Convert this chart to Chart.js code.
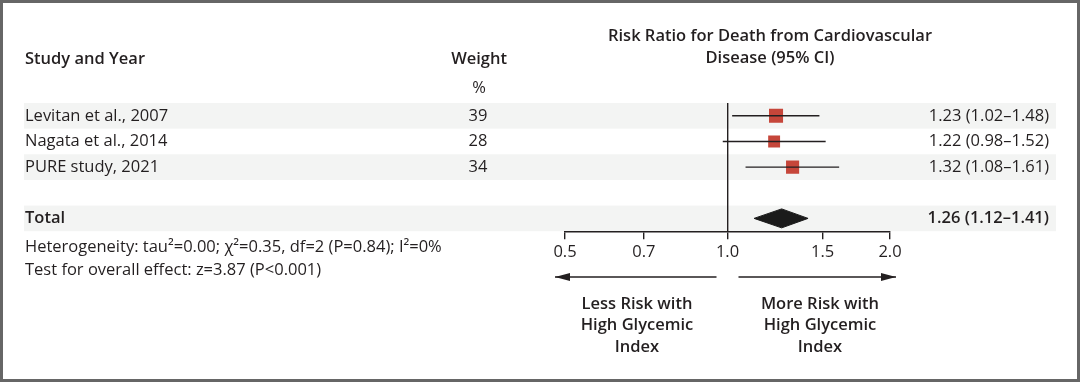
<!DOCTYPE html>
<html>
<head>
<meta charset="utf-8">
<script src="https://cdn.jsdelivr.net/npm/chart.js@4/dist/chart.umd.min.js"></script>
<style>
  html, body { margin: 0; padding: 0; background: #fff; }
  #wrap { width: 1080px; height: 382px; }
</style>
</head>
<body>
<div id="wrap"><canvas id="forest" width="1080" height="382"></canvas></div>
<script>
// data
const studies = ["Levitan et al., 2007", "Nagata et al., 2014", "PURE study, 2021"];
const weights = [39, 28, 34];
const riskRatio = [1.23, 1.22, 1.32];
const ciLow = [1.02, 0.98, 1.08];
const ciHigh = [1.48, 1.52, 1.61];
const totalRR = [1.26];
const totalLow = [1.12];
const totalHigh = [1.41];
const xTicks = [0.5, 0.7, 1.0, 1.5, 2.0];

const TOTAL_ROW = 4;
const FONT = "'Open Sans'";
const INK = "#231f20";
const REG = "16.5px " + FONT;
const BOLD = "600 16.5px " + FONT;

const fmt = (v) => v.toFixed(2);

// one line dataset per confidence interval
const ciSets = studies.map((s, i) => ({
    type: "line",
    data: [{ x: ciLow[i], y: i }, { x: ciHigh[i], y: i }],
    borderColor: INK,
    borderWidth: 1.4,
    pointRadius: 0,
    showLine: true,
    fill: false
}));

const squareSet = {
    type: "scatter",
    data: riskRatio.map((v, i) => ({ x: v, y: i })),
    pointStyle: "rect",
    pointRadius: weights.map(w => 2.25 * Math.sqrt(w) / Math.SQRT2),
    pointHoverRadius: weights.map(w => 2.25 * Math.sqrt(w) / Math.SQRT2),
    backgroundColor: "#c6463a",
    borderWidth: 0
};

const h = 0.37;
const diamondSet = {
    type: "line",
    data: [
        { x: totalLow[0], y: TOTAL_ROW },
        { x: totalRR[0], y: TOTAL_ROW - h },
        { x: totalHigh[0], y: TOTAL_ROW },
        { x: totalRR[0], y: TOTAL_ROW + h },
        { x: totalLow[0], y: TOTAL_ROW }
    ],
    borderColor: "#1b1b1b",
    backgroundColor: "#1b1b1b",
    borderWidth: 1,
    pointRadius: 0,
    tension: 0,
    fill: "shape"
};

const forestDecor = {
    id: "forestDecor",
    beforeDraw(chart) {
        const { ctx } = chart;
        const y = chart.scales.y;
        ctx.save();
        ctx.fillStyle = "#fff";
        ctx.fillRect(0, 0, chart.width, chart.height);
        // shaded rows
        ctx.fillStyle = "#f3f4f3";
        [0, 2, TOTAL_ROW].forEach(r => {
            const top = y.getPixelForValue(r - 0.5);
            const bot = y.getPixelForValue(r + 0.5);
            ctx.fillRect(24, top, 1032, bot - top);
        });
        ctx.restore();
    },
    afterDraw(chart) {
        const { ctx } = chart;
        const x = chart.scales.x;
        const y = chart.scales.y;
        ctx.save();
        ctx.fillStyle = INK;
        ctx.textBaseline = "middle";

        // headers
        ctx.font = BOLD;
        ctx.textAlign = "left";
        ctx.fillText("Study and Year", 25, 59);
        ctx.textAlign = "right";
        ctx.fillText("Weight", 507, 59);
        ctx.textAlign = "center";
        ctx.fillText("Risk Ratio for Death from Cardiovascular", 770, 36);
        ctx.fillText("Disease (95% CI)", 770, 58);
        ctx.font = REG;
        ctx.fillText("%", 479, 88);

        // study rows
        studies.forEach((s, i) => {
            const py = y.getPixelForValue(i);
            ctx.textAlign = "left";
            ctx.fillText(s, 25, py);
            ctx.textAlign = "center";
            ctx.fillText(String(weights[i]), 478, py);
            ctx.textAlign = "right";
            ctx.fillText(fmt(riskRatio[i]) + " (" + fmt(ciLow[i]) + "\u2013" + fmt(ciHigh[i]) + ")", 1049, py);
        });

        // total row
        const ty = y.getPixelForValue(TOTAL_ROW);
        ctx.font = BOLD;
        ctx.textAlign = "left";
        ctx.fillText("Total", 25, ty);
        ctx.textAlign = "right";
        ctx.fillText(fmt(totalRR[0]) + " (" + fmt(totalLow[0]) + "\u2013" + fmt(totalHigh[0]) + ")", 1049, ty);

        ctx.font = REG;
        ctx.textAlign = "left";
        ctx.fillText("Heterogeneity: tau\u00b2=0.00; \u03c7\u00b2=0.35, df=2 (P=0.84); I\u00b2=0%", 25, 247);
        ctx.fillText("Test for overall effect: z=3.87 (P<0.001)", 25, 270);

        // direction arrows
        const ay = 277;
        const x1 = x.getPixelForValue(1);
        const drawArrow = (from, to) => {
            ctx.strokeStyle = INK;
            ctx.lineWidth = 1.5;
            ctx.beginPath();
            ctx.moveTo(from, ay);
            ctx.lineTo(to, ay);
            ctx.stroke();
            const dir = Math.sign(to - from);
            ctx.beginPath();
            ctx.moveTo(to, ay);
            ctx.lineTo(to - dir * 15, ay - 4);
            ctx.lineTo(to - dir * 15, ay + 4);
            ctx.closePath();
            ctx.fill();
        };
        drawArrow(x1 - 11, 555);
        drawArrow(x1 + 11, 896);

        ctx.font = BOLD;
        ctx.textAlign = "center";
        ["Less Risk with", "High Glycemic", "Index"].forEach((t, i) => ctx.fillText(t, 637, 304 + i * 21.5));
        ["More Risk with", "High Glycemic", "Index"].forEach((t, i) => ctx.fillText(t, 820, 304 + i * 21.5));

        // frame
        ctx.fillStyle = "#666";
        ctx.fillRect(0, 0, chart.width, 3);
        ctx.fillRect(0, chart.height - 3, chart.width, 3);
        ctx.fillRect(0, 0, 3, chart.height);
        ctx.fillRect(chart.width - 3, 0, 3, chart.height);
        ctx.restore();
    }
};

new Chart(document.getElementById("forest"), {
    type: "scatter",
    data: { datasets: [...ciSets, diamondSet, squareSet] },
    options: {
        responsive: false,
        animation: false,
        events: [],
        layout: { padding: { left: 565, right: 190, top: 103, bottom: 117 } },
        plugins: { legend: { display: false }, tooltip: { enabled: false } },
        scales: {
            x: {
                type: "logarithmic",
                min: 0.5,
                max: 2.0,
                afterBuildTicks: (scale) => { scale.ticks = xTicks.map(v => ({ value: v })); },
                ticks: {
                    autoSkip: false,
                    maxRotation: 0,
                    padding: 3,
                    color: INK,
                    font: { family: "Open Sans", size: 16.5 },
                    callback: (v) => Number(v).toFixed(1)
                },
                grid: {
                    drawOnChartArea: true,
                    drawTicks: true,
                    tickLength: 8,
                    tickColor: INK,
                    tickWidth: 1.4,
                    lineWidth: 1.4,
                    color: (c) => (c.tick && c.tick.value === 1 ? INK : "rgba(0,0,0,0)")
                },
                border: { display: true, color: INK, width: 1.4 }
            },
            y: {
                type: "linear",
                display: false,
                min: -0.5,
                max: 4.5,
                reverse: true
            }
        }
    },
    plugins: [forestDecor]
});
</script>
</body>
</html>
